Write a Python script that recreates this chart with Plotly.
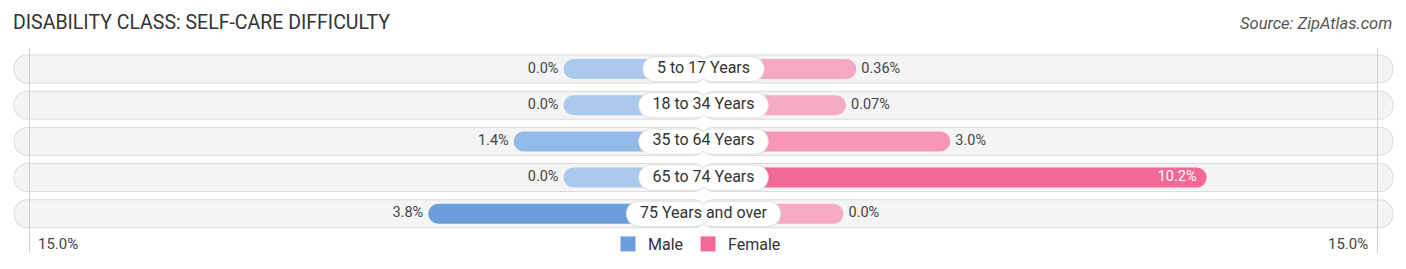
import plotly.graph_objects as go

# ---------------- data ----------------
categories = ["5 to 17 Years", "18 to 34 Years", "35 to 64 Years", "65 to 74 Years", "75 Years and over"]
male = [0.0, 0.0, 1.4, 0.0, 3.8]
female = [0.36, 0.07, 3.0, 10.2, 0.0]
male_labels = ["0.0%", "0.0%", "1.4%", "0.0%", "3.8%"]
female_labels = ["0.36%", "0.07%", "3.0%", "10.2%", "0.0%"]
axis_max = 15.0
axis_label = "15.0%"

# ---------------- layout constants ----------------
W, H = 1406, 269
CX = 703.5
PX = 35.6              # pixels per percent
OFFSET = 140 / PX       # minimum bar length (hidden under label pill)
ROW0 = 69.0
STEP = 36.2
rows = list(range(len(categories)))

MALE_LIGHT, MALE_STRONG = "#aac9ed", "#6a9fdc"
FEM_LIGHT, FEM_STRONG = "#f7aac3", "#f06a95"
FONT = "Roboto"

def u(px):
    return px / PX

def h(px):
    return px / STEP

fig = go.Figure()

OV = u(4)  # overlap of the two halves across the centre

def halves(lengths, thick, color):
    for sign in (-1, 1):
        fig.add_trace(go.Bar(y=rows, x=[sign * (L + OV) for L in lengths], base=[-sign * OV] * len(rows),
                             orientation="h", width=h(thick),
                             marker=dict(color=color, cornerradius="50%", line=dict(width=0)),
                             showlegend=False, hoverinfo="skip"))

# background pills
BG = OFFSET + axis_max + u(16)
halves([BG] * len(rows), 29, "#dcdcdc")
halves([BG - u(1)] * len(rows), 27, "#f4f4f4")

# male bars
fig.add_trace(go.Bar(y=rows, x=[-(OFFSET + v) for v in male], base=0, orientation="h",
                     width=h(20),
                     marker=dict(color=male, colorscale=[[0, MALE_LIGHT], [1, MALE_STRONG]],
                                 cmin=0, cmax=max(male), cornerradius="50%", line=dict(width=0)),
                     showlegend=False, hoverinfo="skip"))
# female bars
fig.add_trace(go.Bar(y=rows, x=[(OFFSET + v) for v in female], base=0, orientation="h",
                     width=h(20),
                     marker=dict(color=female, colorscale=[[0, FEM_LIGHT], [1, FEM_STRONG]],
                                 cmin=0, cmax=max(female), cornerradius="50%", line=dict(width=0)),
                     showlegend=False, hoverinfo="skip"))

# label pills (shadow + white)
pill_half = [u(len(c) * 8.25 + 13) / 2 for c in categories]
halves([p + u(1) for p in pill_half], 26, "#e0e0e0")
halves(pill_half, 24, "#ffffff")

# category labels
fig.add_trace(go.Scatter(x=[0] * len(rows), y=rows, mode="text", text=categories,
                         textposition="middle center",
                         textfont=dict(family=FONT, size=16, color="#333333"),
                         showlegend=False, hoverinfo="skip"))

# male value labels (outside, left)
fig.add_trace(go.Scatter(x=[-(OFFSET + v) - u(5) for v in male], y=rows, mode="text", text=male_labels,
                         textposition="middle left",
                         textfont=dict(family=FONT, size=14.5, color="#444444"),
                         showlegend=False, hoverinfo="skip"))

# female value labels
INSIDE = 8.0
fx, ftp, fcol = [], [], []
for v in female:
    if v > INSIDE:
        fx.append(OFFSET + v - u(10)); ftp.append("middle left"); fcol.append("#ffffff")
    else:
        fx.append(OFFSET + v + u(5)); ftp.append("middle right"); fcol.append("#444444")
fig.add_trace(go.Scatter(x=fx, y=rows, mode="text", text=female_labels,
                         textposition=ftp,
                         textfont=dict(family=FONT, size=14.5, color=fcol),
                         showlegend=False, hoverinfo="skip"))

# legend entries
fig.add_trace(go.Scatter(x=[None], y=[None], name="Male", mode="markers",
                         marker=dict(color=MALE_STRONG, symbol="square", size=15)))
fig.add_trace(go.Scatter(x=[None], y=[None], name="Female", mode="markers",
                         marker=dict(color=FEM_STRONG, symbol="square", size=15)))

xr = [-CX / PX, (W - CX) / PX]
yr = [(H - ROW0) / STEP, -ROW0 / STEP]

shapes = []
for sign in (-1, 1):
    shapes.append(dict(type="line", xref="x", yref="paper",
                       x0=sign * (OFFSET + axis_max), x1=sign * (OFFSET + axis_max),
                       y0=1 - 48 / H, y1=1 - 253 / H,
                       line=dict(color="#d0d0d0", width=1), layer="above"))

annotations = [
    dict(text="DISABILITY CLASS: SELF-CARE DIFFICULTY", x=11 / W, y=1 - 22 / H,
         xref="paper", yref="paper", xanchor="left", yanchor="middle", showarrow=False,
         font=dict(family=FONT, size=19.5, color="#333333")),
    dict(text="<i>Source: ZipAtlas.com</i>", x=1394 / W, y=1 - 24 / H,
         xref="paper", yref="paper", xanchor="right", yanchor="middle", showarrow=False,
         font=dict(family=FONT, size=16.5, color="#555555")),
    dict(text=axis_label, x=36 / W, y=1 - 244 / H, xref="paper", yref="paper",
         xanchor="left", yanchor="middle", showarrow=False,
         font=dict(family=FONT, size=15, color="#444444")),
    dict(text=axis_label, x=1370 / W, y=1 - 244 / H, xref="paper", yref="paper",
         xanchor="right", yanchor="middle", showarrow=False,
         font=dict(family=FONT, size=15, color="#444444")),
]

fig.update_layout(
    width=W, height=H,
    margin=dict(l=0, r=0, t=0, b=0),
    barmode="overlay",
    paper_bgcolor="white", plot_bgcolor="white",
    xaxis=dict(range=xr, visible=False, fixedrange=True),
    yaxis=dict(range=yr, visible=False, fixedrange=True),
    showlegend=True,
    legend=dict(orientation="h", x=697 / W, xanchor="center", y=1 - 244 / H, yanchor="middle",
                font=dict(family=FONT, size=16, color="#333333"),
                bgcolor="rgba(0,0,0,0)", itemwidth=30, traceorder="normal", itemsizing="trace"),
    shapes=shapes,
    annotations=annotations,
)

fig.write_html("out.html")
